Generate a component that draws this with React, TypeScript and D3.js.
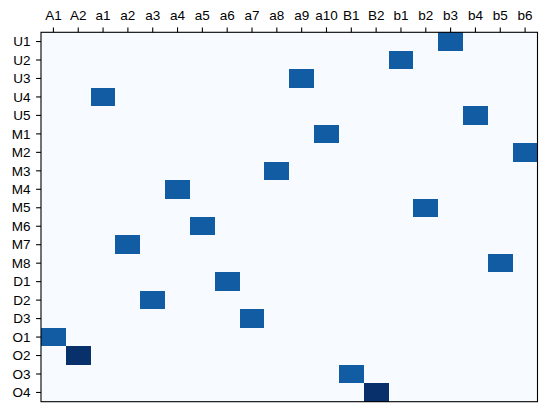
import React from "react";
import * as d3 from "d3";

const columns = ["A1","A2","a1","a2","a3","a4","a5","a6","a7","a8","a9","a10","B1","B2","b1","b2","b3","b4","b5","b6"];
const rows = ["U1","U2","U3","U4","U5","M1","M2","M3","M4","M5","M6","M7","M8","D1","D2","D3","O1","O2","O3","O4"];
// column assigned to each row, with its value
const assignedCol = ["b3","b1","a9","a1","b4","a10","b6","a8","a4","b2","a5","a2","b5","a6","a3","a7","A1","A2","B1","B2"];
const assignedVal = [5,5,5,5,5,5,5,5,5,5,5,5,5,5,5,5,5,6,5,6];

const W = 547, H = 412;
const m = { left: 41, top: 32.3, right: 537.5, bottom: 401.7 };

export default function App() {
  const x = d3.scaleBand().domain(columns).range([m.left, m.right]);
  const y = d3.scaleBand().domain(rows).range([m.top, m.bottom]);
  const color = d3.scaleSequential(d3.interpolateBlues).domain([0, 6]);
  const font = "'Liberation Sans', Arial, sans-serif";
  const cells = rows.flatMap(r => columns.map(c => {
    const i = rows.indexOf(r);
    const v = assignedCol[i] === c ? assignedVal[i] : 0;
    return { r, c, v };
  }));
  return (
    <div style={{ position: "absolute", left: 0, top: 0 }}>
      <svg width={W} height={H} style={{ display: "block", background: "#fff" }}>
        {cells.map(d => (
          <rect key={d.r + d.c} x={x(d.c)!} y={y(d.r)!} width={x.bandwidth() + 0.3} height={y.bandwidth() + 0.3}
            fill={color(d.v)} shapeRendering="crispEdges" />
        ))}
        <rect x={m.left} y={m.top} width={m.right - m.left} height={m.bottom - m.top} fill="none" stroke="#000" strokeWidth={1.1} />
        {columns.map(c => {
          const cx = x(c)! + x.bandwidth() / 2;
          return (
            <g key={c}>
              <line x1={cx} x2={cx} y1={m.top} y2={m.top - 4.9} stroke="#000" strokeWidth={1.1} />
              <text x={cx} y={20} textAnchor="middle" fontFamily={font} fontSize={13.5} fill="#000">{c}</text>
            </g>
          );
        })}
        {rows.map(r => {
          const cy = y(r)! + y.bandwidth() / 2;
          return (
            <g key={r}>
              <line x1={m.left} x2={m.left - 4.9} y1={cy} y2={cy} stroke="#000" strokeWidth={1.1} />
              <text x={30.5} y={cy} dy="0.35em" textAnchor="end" fontFamily={font} fontSize={13.5} fill="#000">{r}</text>
            </g>
          );
        })}
      </svg>
    </div>
  );
}
